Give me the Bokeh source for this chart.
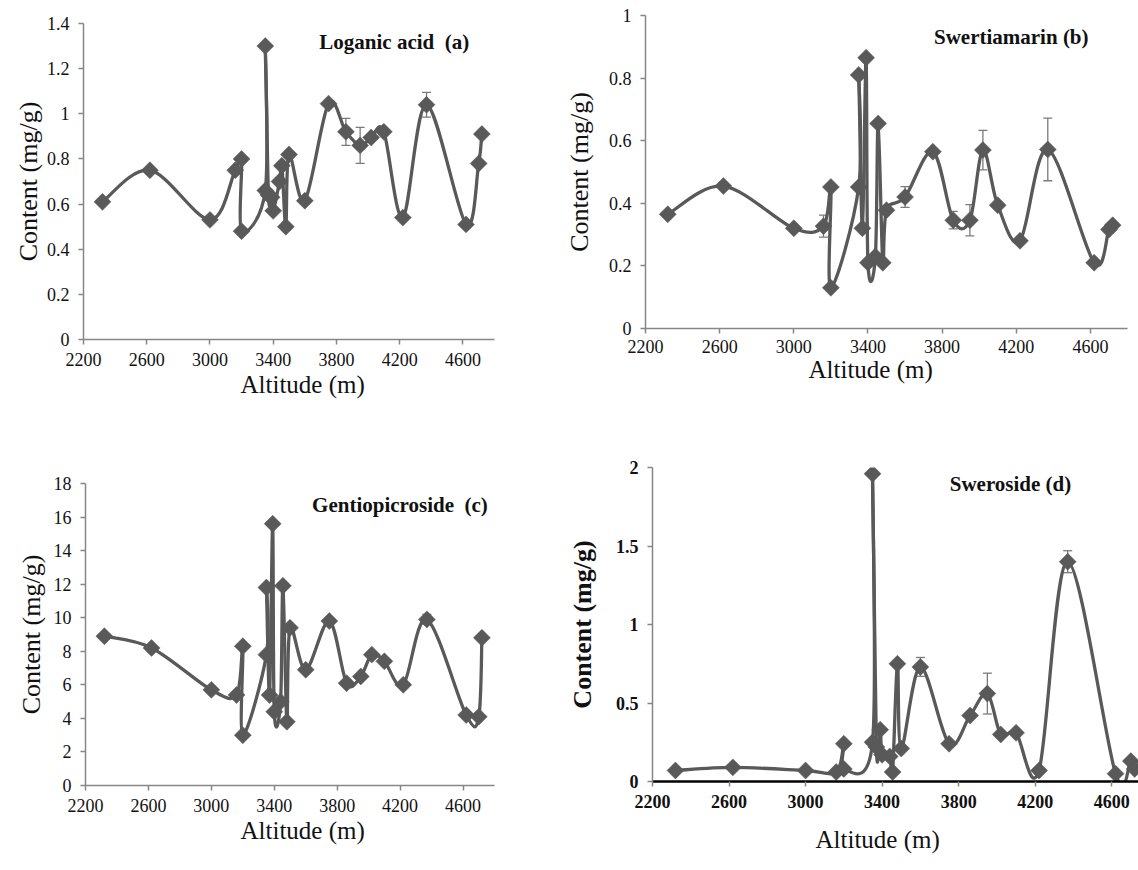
from bokeh.plotting import figure
from bokeh.layouts import column, row
from bokeh.models import (Range1d, FixedTicker, CustomJSTickFormatter, Label, Title,
                          ColumnDataSource, Whisker, TeeHead)
from bokeh.embed import file_html
from bokeh.resources import INLINE

# ---------------- data ----------------
altitude = [2320, 2620, 3000, 3160, 3200, 3200, 3350, 3350, 3370, 3390, 3400, 3440, 3455,
            3480, 3500, 3600, 3750, 3860, 3950, 4020, 4100, 4220, 4370, 4620, 4700, 4720]

loganic_acid = [0.61, 0.75, 0.53, 0.75, 0.80, 0.48, 0.66, 1.30, 0.64, 0.63, 0.57, 0.70, 0.77,
                0.50, 0.82, 0.615, 1.045, 0.92, 0.86, 0.895, 0.92, 0.54, 1.04, 0.51, 0.78, 0.91]
swertiamarin = [0.365, 0.455, 0.32, 0.327, 0.452, 0.13, 0.452, 0.81, 0.32, 0.865, 0.21, 0.23, 0.655,
                0.21, 0.378, 0.42, 0.565, 0.346, 0.346, 0.57, 0.394, 0.28, 0.572, 0.21, 0.316, 0.33]
gentiopicroside = [8.9, 8.2, 5.7, 5.4, 8.3, 3.0, 7.8, 11.8, 5.4, 15.6, 4.4, 5.0, 11.9,
                   3.8, 9.4, 6.9, 9.8, 6.1, 6.5, 7.8, 7.4, 6.0, 9.9, 4.2, 4.1, 8.8]
sweroside = [0.07, 0.09, 0.07, 0.06, 0.24, 0.08, 0.25, 1.96, 0.22, 0.33, 0.17, 0.16, 0.06,
             0.75, 0.21, 0.73, 0.24, 0.42, 0.56, 0.30, 0.31, 0.07, 1.40, 0.05, 0.13, 0.08]

err_loganic_acid = [0, 0, 0, 0, 0, 0, 0, 0, 0, 0, 0, 0, 0,
                    0, 0, 0, 0, 0.06, 0.08, 0, 0, 0, 0.055, 0, 0, 0]
err_swertiamarin = [0, 0, 0, 0.035, 0, 0, 0, 0, 0, 0, 0, 0, 0,
                    0, 0, 0.033, 0, 0.028, 0.05, 0.063, 0, 0, 0.10, 0, 0, 0]
err_gentiopicroside = [0, 0, 0, 0, 0, 0, 0, 0, 0, 0, 0, 0, 0,
                       0, 0, 0, 0, 0, 0, 0, 0, 0, 0.3, 0, 0, 0]
err_sweroside = [0, 0, 0, 0, 0, 0, 0, 0, 0, 0, 0, 0, 0,
                 0, 0, 0.06, 0, 0, 0.13, 0, 0, 0, 0.07, 0, 0, 0]

x_ticks = [2200, 2600, 3000, 3400, 3800, 4200, 4600]
y_ticks_a = [0, 0.2, 0.4, 0.6, 0.8, 1.0, 1.2, 1.4]
y_ticks_b = [0, 0.2, 0.4, 0.6, 0.8, 1.0]
y_ticks_c = [0, 2, 4, 6, 8, 10, 12, 14, 16, 18]
y_ticks_d = [0, 0.5, 1.0, 1.5, 2.0]

titles = ["Loganic acid\u00a0\u00a0(a)", "Swertiamarin (b)",
          "Gentiopicroside\u00a0\u00a0(c)", "Sweroside (d)"]
x_title = "Altitude (m)"
y_title = "Content (mg/g)"

LINE = "#595959"
AXIS = "#868686"
TICK_FONT = "Liberation Sans Narrow"
SERIF = "Liberation Serif"


def smooth_bezier(xs, ys):
    """Control points of a Catmull-Rom style smoothed line through the data."""
    n = len(xs)
    out = {k: [] for k in ("x0", "y0", "x1", "y1", "cx0", "cy0", "cx1", "cy1")}
    for i in range(n - 1):
        im1 = max(i - 1, 0)
        ip2 = min(i + 2, n - 1)
        out["x0"].append(xs[i]); out["y0"].append(ys[i])
        out["x1"].append(xs[i + 1]); out["y1"].append(ys[i + 1])
        out["cx0"].append(xs[i] + (xs[i + 1] - xs[im1]) / 6.0)
        out["cy0"].append(ys[i] + (ys[i + 1] - ys[im1]) / 6.0)
        out["cx1"].append(xs[i + 1] - (xs[ip2] - xs[i]) / 6.0)
        out["cy1"].append(ys[i + 1] - (ys[ip2] - ys[i]) / 6.0)
    return out


def make_panel(values, errs, title, tx, ty, y_end, y_ticks, width, height,
               borders, x_end, ylab_standoff, xt_offset, xt_standoff, tick_standoff=8,
               bold_axis=False):
    left, right, top, bottom = borders
    p = figure(width=width, height=height, output_backend="svg", toolbar_location=None,
               x_range=Range1d(2200, x_end), y_range=Range1d(0, y_end),
               min_border_left=left, min_border_right=right,
               min_border_top=top, min_border_bottom=bottom)
    p.outline_line_color = None
    p.xgrid.visible = False
    p.ygrid.visible = False
    p.background_fill_color = "white"
    p.border_fill_color = "white"

    p.bezier(source=ColumnDataSource(smooth_bezier(altitude, values)),
             x0="x0", y0="y0", x1="x1", y1="y1", cx0="cx0", cy0="cy0", cx1="cx1", cy1="cy1",
             line_color=LINE, line_width=3.3)

    eb = [(a, v, e) for a, v, e in zip(altitude, values, errs) if e > 0]
    if eb:
        src = ColumnDataSource(dict(base=[t[0] for t in eb],
                                    upper=[t[1] + t[2] for t in eb],
                                    lower=[t[1] - t[2] for t in eb]))
        w = Whisker(source=src, base="base", upper="upper", lower="lower",
                    line_color="#7a7a7a", line_width=1.3,
                    upper_head=TeeHead(size=9, line_color="#7a7a7a", line_width=1.3),
                    lower_head=TeeHead(size=9, line_color="#7a7a7a", line_width=1.3))
        p.add_layout(w)

    p.scatter(altitude, values, marker="square", size=12, angle=0.785398,
              fill_color=LINE, line_color=LINE, line_width=0.5)

    for ax in (p.xaxis[0], p.yaxis[0]):
        thick = bold_axis and ax is p.xaxis[0]
        ax.axis_line_color = "#000000" if thick else AXIS
        ax.axis_line_width = 2.5 if thick else 1.5
        ax.major_tick_line_color = AXIS
        ax.major_tick_line_width = 1.5
        ax.major_tick_out = 5
        ax.major_tick_in = 0
        ax.minor_tick_out = 0
        ax.minor_tick_in = 0
        ax.major_label_text_font = TICK_FONT
        ax.major_label_text_font_size = "18px"
        ax.major_label_text_color = "#111111"
        ax.major_label_text_font_style = "bold" if bold_axis else "normal"
        ax.axis_label_text_font = SERIF
        ax.axis_label_text_color = "#111111"
    p.yaxis[0].axis_label_text_font_size = "26px"
    p.xaxis[0].ticker = FixedTicker(ticks=x_ticks)
    p.yaxis[0].ticker = FixedTicker(ticks=y_ticks)
    p.yaxis[0].formatter = CustomJSTickFormatter(code="return String(Math.round(tick*100)/100);")
    p.xaxis[0].major_label_standoff = tick_standoff
    p.yaxis[0].major_label_standoff = 9
    p.yaxis[0].axis_label = y_title
    p.yaxis[0].axis_label_text_font_style = "bold" if bold_axis else "normal"
    p.yaxis[0].axis_label_standoff = ylab_standoff

    # x-axis title as a title below the axis, offset from the frame's left edge
    p.add_layout(Title(text=x_title, align="left", offset=xt_offset, standoff=xt_standoff,
                       text_font=SERIF, text_font_size="25px", text_font_style="normal",
                       text_color="#111111"), "below")

    p.add_layout(Label(x=tx, y=ty, text=title, text_font=SERIF, text_font_size="21px",
                       text_font_style="bold", text_align="center", text_baseline="middle",
                       text_color="#111111"))
    return p


pa = make_panel(loganic_acid, err_loganic_acid, titles[0], 4166, 1.316, 1.4, y_ticks_a,
                560, 418, (83, 66, 23, 79), 4800, 1, 157, 0)
pb = make_panel(swertiamarin, err_swertiamarin, titles[1], 4173, 0.93, 1.0, y_ticks_b,
                578, 418, (85, 11, 15, 90), 4800, 12, 163, -4, tick_standoff=6)
pc = make_panel(gentiopicroside, err_gentiopicroside, titles[2], 4199, 16.7, 18, y_ticks_c,
                560, 452, (85, 66, 65, 85), 4800, 5, 155, 0)
pd = make_panel(sweroside, err_sweroside, titles[3], 4071, 1.894, 2.0, y_ticks_d,
                578, 452, (92, 0, 49, 89), 4740, 16, 163, 27, bold_axis=True)

layout = column(row(column(pa), column(pb)), row(column(pc), column(pd)))
open("out.html", "w").write(file_html(layout, INLINE))
